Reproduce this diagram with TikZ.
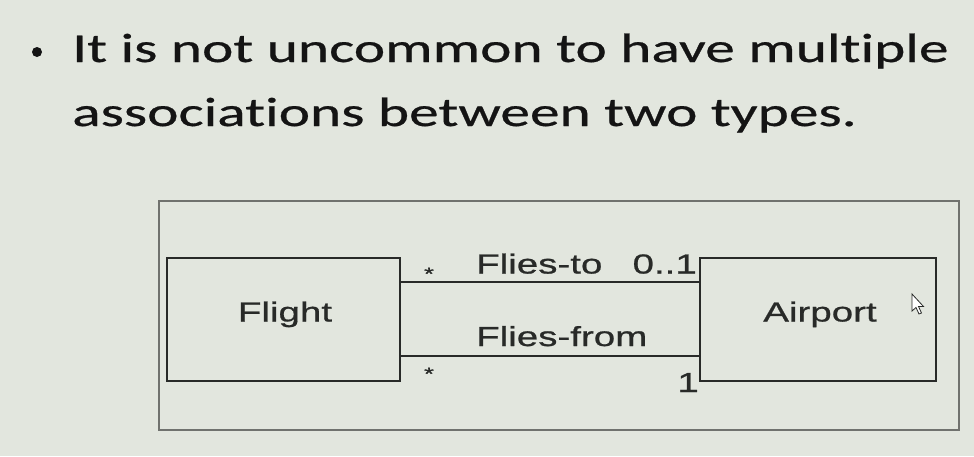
\documentclass[tikz,border=0pt]{standalone}
\usepackage{fontspec}
\newfontfamily\headfont[FakeStretch=1.45,FakeBold=0.6,Ligatures=NoCommon]{Carlito}
\newfontfamily\diagfont[FakeStretch=1.4,FakeBold=0.8]{Liberation Sans}
\definecolor{bg}{RGB}{226,230,222}
\definecolor{frame}{RGB}{112,114,110}
\definecolor{ink}{RGB}{40,42,40}
\begin{document}
\begin{tikzpicture}[x=1pt,y=-1pt,
  classbox/.style={draw=ink,line width=2pt,inner sep=0pt},
  assoc/.style={draw=ink,line width=1.8pt},
  lbl/.style={inner sep=0pt,font=\diagfont\fontsize{27.5}{30}\selectfont,text=ink},
  mult/.style={inner sep=0pt,font=\diagfont\fontsize{18}{20}\selectfont,text=ink},
  head/.style={inner sep=0pt,anchor=base west,font=\headfont\fontsize{41}{48}\selectfont,text=black!92}]
\useasboundingbox (0,0) rectangle (974,456);
\fill[bg] (0,0) rectangle (974,456);
% bullet text
\node[head] (l1) at (72,62) {It is not uncommon to have multiple};
\node[head] (l2) at (72,126) {associations between two types.};
\fill[black!92] (37,52) circle (5pt);
% frame
\draw[frame,line width=2pt] (159,201) rectangle (959,430);
% classes
\node[classbox,minimum width=233.5pt,minimum height=123pt] (flight) at (283.25,319.5) {};
\node[lbl,anchor=base] (flightt) at (285,321.5) {Flight};
\node[classbox,minimum width=236pt,minimum height=123pt] (airport) at (818,319.5) {};
\node[lbl,anchor=base] (airportt) at (820,321.5) {Airport};
% associations
\draw[assoc] ([yshift=37.2pt]flight.east) -- ([yshift=37.2pt]airport.west);
\draw[assoc] ([yshift=-36.5pt]flight.east) -- ([yshift=-36.5pt]airport.west);
% labels
\node[lbl,anchor=base west] (ft) at (476,273.5) {Flies-to};
\node[lbl,anchor=base west] (ff) at (476,346) {Flies-from};
\node[lbl,anchor=base east] (m01) at (697,273.5) {0..1};
\node[lbl,anchor=base east] (m1) at (699,392) {1};
\node[mult,anchor=base] (s1) at (429,280) {*};
\node[mult,anchor=base] (s2) at (429,380) {*};
% cursor
\filldraw[fill=white,draw=ink,line width=0.8pt] (912,294) -- (912,311) -- (916,307.5) -- (919,314) -- (921.5,313) -- (918.5,306.5) -- (923.5,306.5) -- cycle;
\end{tikzpicture}
\end{document}
